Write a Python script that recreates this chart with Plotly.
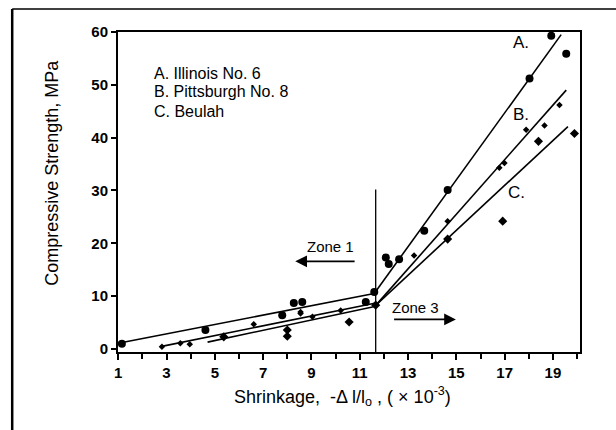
import plotly.graph_objects as go

# ---- data ----
ill_x = [1.15, 4.61, 7.79, 8.27, 8.62, 11.25, 11.6, 12.08, 12.2, 12.63, 13.67, 14.64, 18.03, 18.93, 19.55]
ill_y = [1.0, 3.6, 6.4, 8.7, 8.9, 8.9, 10.8, 17.3, 16.1, 17.0, 22.4, 30.1, 51.2, 59.3, 55.9]

pit_x = [2.81, 3.57, 3.96, 6.61, 8.55, 8.55, 9.04, 10.21, 13.25, 14.64, 16.78, 16.99, 17.89, 18.65, 19.27]
pit_y = [0.43, 1.07, 0.9, 4.7, 6.7, 7.0, 6.1, 7.3, 17.7, 24.2, 34.3, 35.2, 41.5, 42.3, 46.2]

beu_x = [5.37, 8.0, 8.0, 10.56, 11.66, 14.64, 16.92, 18.4, 19.89]
beu_y = [2.3, 3.6, 2.4, 5.1, 8.3, 20.8, 24.2, 39.3, 40.8]

# fitted lines (zone 1 and zone 3 segments)
a1_x, a1_y = [1.0, 11.6], [1.1, 10.5]
a3_x, a3_y = [11.6, 19.34], [10.5, 59.5]
b1_x, b1_y = [2.8, 11.67], [0.5, 8.7]
b3_x, b3_y = [11.67, 19.55], [8.3, 49.0]
c1_x, c1_y = [4.7, 11.67], [1.3, 8.1]
c3_x, c3_y = [11.67, 19.62], [8.3, 42.1]

zone_x = [11.66, 11.66]
zone_y = [-0.57, 30.2]

# zone arrows (tail -> head)
zone1_arrow_x, zone1_arrow_y = [10.85, 8.33], [16.6, 16.6]
zone3_arrow_x, zone3_arrow_y = [12.36, 14.98], [5.6, 5.6]

legend_lines = ["A. Illinois No. 6", "B. Pittsburgh No. 8", "C. Beulah"]
x_ticks = [1, 3, 5, 7, 9, 11, 13, 15, 17, 19]
y_ticks = [0, 10, 20, 30, 40, 50, 60]

FONT = "Arial, Liberation Sans, Helvetica, sans-serif"

fig = go.Figure()
line_style = dict(color="black", width=1.6)
for xs, ys in [(a1_x, a1_y), (a3_x, a3_y), (b1_x, b1_y), (b3_x, b3_y), (c1_x, c1_y), (c3_x, c3_y)]:
    fig.add_trace(go.Scatter(x=xs, y=ys, mode="lines", line=line_style, showlegend=False, hoverinfo="skip"))

fig.add_trace(go.Scatter(x=zone_x, y=zone_y, mode="lines", line=dict(color="black", width=1.3),
                         showlegend=False, hoverinfo="skip"))

fig.add_trace(go.Scatter(x=ill_x, y=ill_y, mode="markers", name="A. Illinois No. 6",
                         marker=dict(symbol="circle", size=8, color="black"), showlegend=False))
fig.add_trace(go.Scatter(x=pit_x, y=pit_y, mode="markers", name="B. Pittsburgh No. 8",
                         marker=dict(symbol="diamond", size=5, color="black"), showlegend=False))
fig.add_trace(go.Scatter(x=beu_x, y=beu_y, mode="markers", name="C. Beulah",
                         marker=dict(symbol="diamond", size=7, color="black"), showlegend=False))

ann = []
for i, t in enumerate(legend_lines):
    ann.append(dict(x=2.4, y=[52.1, 48.7, 45.0][i], text=t, showarrow=False, xanchor="left",
                    yanchor="middle", font=dict(family=FONT, size=16, color="black")))
for t, x, y in [("A.", 17.68, 58.1), ("B.", 17.68, 44.4), ("C.", 17.47, 29.6)]:
    ann.append(dict(x=x, y=y, text=t, showarrow=False, font=dict(family=FONT, size=17, color="black")))
ann.append(dict(x=9.8, y=19.4, text="Zone 1", showarrow=False, font=dict(family=FONT, size=15, color="black")))
ann.append(dict(x=13.32, y=7.8, text="Zone 3", showarrow=False, font=dict(family=FONT, size=15, color="black")))
# arrows
for xs, ys in [(zone1_arrow_x, zone1_arrow_y), (zone3_arrow_x, zone3_arrow_y)]:
    ann.append(dict(x=xs[1], y=ys[1], ax=xs[0], ay=ys[0], axref="x", ayref="y", xref="x", yref="y", text="",
                    showarrow=True, arrowhead=2, arrowsize=1.3, arrowwidth=1.8, arrowcolor="black"))
# axis titles
ann.append(dict(xref="paper", yref="paper", x=0.485, y=-0.14, text="Shrinkage,  -Δ l/l<sub>o</sub> , ( × 10<sup>-3</sup>)",
                showarrow=False, xanchor="center", yanchor="middle", font=dict(family=FONT, size=18, color="black")))
ann.append(dict(xref="paper", yref="paper", x=-0.143, y=0.56, text="Compressive Strength, MPa", textangle=-90,
                showarrow=False, xanchor="center", yanchor="middle", font=dict(family=FONT, size=18, color="black")))

fig.update_layout(
    width=616, height=430,
    margin=dict(l=118, r=36, t=32, b=78),
    paper_bgcolor="white", plot_bgcolor="white",
    annotations=ann,
    shapes=[
        dict(type="line", xref="paper", yref="paper", x0=-0.229, x1=-0.229, y0=1.072, y1=-0.25,
             line=dict(color="black", width=2.5)),
        dict(type="line", xref="paper", yref="paper", x0=-0.229, x1=1.1, y0=1.072, y1=1.072,
             line=dict(color="black", width=1.6)),
    ],
)
fig.update_xaxes(range=[0.99, 20.12], tickvals=x_ticks, ticks="outside", ticklen=6, tickwidth=1.5,
                 tickcolor="black", showline=True, linecolor="black", linewidth=2, mirror=True,
                 showgrid=False, zeroline=False,
                 minor=dict(dtick=1, ticks="outside", ticklen=5, tickwidth=1.5, tickcolor="black", showgrid=False),
                 tickfont=dict(family=FONT, size=15, color="black", weight="bold"))
fig.update_yaxes(range=[-0.57, 60], tickvals=y_ticks, ticks="outside", ticklen=5, tickwidth=1.5,
                 tickcolor="black", showline=True, linecolor="black", linewidth=2, mirror=True,
                 showgrid=False, zeroline=False,
                 tickfont=dict(family=FONT, size=15, color="black", weight="bold"))

fig.write_html("out.html")
